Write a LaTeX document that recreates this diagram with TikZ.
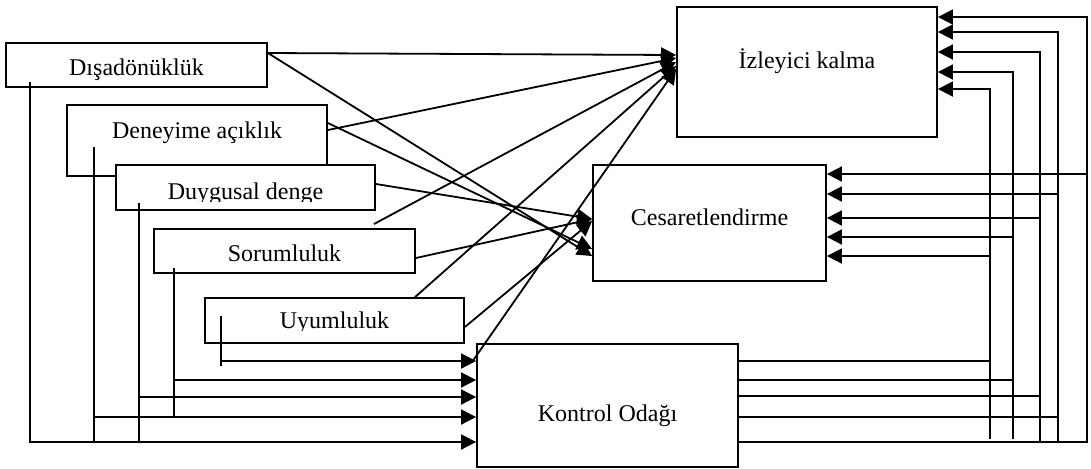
\documentclass[tikz,border=0pt]{standalone}
\usepackage{fontspec}
\setmainfont{Liberation Serif}
\usetikzlibrary{arrows.meta,fit}
\begin{document}
\begin{tikzpicture}[x=0.5pt,y=-0.5pt,
  box/.style={draw,line width=0.9pt,fill=white,inner sep=0pt},
  lbl/.style={anchor=base,inner sep=0pt,font=\fontsize{12}{14}\selectfont},
  wire/.style={line width=0.9pt},
  arr/.style={wire,-{Triangle[length=7.5pt,width=7.5pt]}},
]
\useasboundingbox (0,0) rectangle (1091,468);

% personality trait boxes (stacked, later ones cover earlier ones)
\node[box,fit={(6,43) (267,87)}] (dis) {};
\node[lbl] (disT) at (136.5,75) {Dışadönüklük};
\node[box,fit={(67,105) (327,176)}] (den) {};
\node[lbl] (denT) at (197,138) {Deneyime açıklık};
\node[box,fit={(116,165) (375,210)}] (duy) {};
\begin{scope}
  \clip (116,165) rectangle (375,201.5);
  \node[lbl] (duyT) at (245.5,199) {Duygusal denge};
\end{scope}
\node[box,fit={(154,229) (415,273)}] (sor) {};
\node[lbl] (sorT) at (284.5,261) {Sorumluluk};
\node[box,fit={(205,298) (464,343)}] (uy) {};
\begin{scope}
  \clip (205,298) rectangle (464,330);
  \node[lbl] (uyT) at (334.5,328) {Uyumluluk};
\end{scope}

% outcome boxes
\node[box,fit={(677,7) (937,137)}] (iz) {};
\node[lbl] (izT) at (807,68) {İzleyici kalma};
\node[box,fit={(593,165) (826,281)}] (ces) {};
\node[lbl] (cesT) at (709.5,225) {Cesaretlendirme};
\node[box,fit={(477,344) (738,467)}] (ko) {};
\node[lbl] (koT) at (607.5,421) {Kontrol Odağı};

% start points of the feeder lines inside the trait boxes
\coordinate (disS) at (30,82);
\coordinate (denS) at (94,147);
\coordinate (duyS) at (139,203);
\coordinate (sorS) at (174,268);
\coordinate (uyS)  at (221,316);
\coordinate (sorTop) at (374,224);
\coordinate (koTail) at (472,362);

% traits -> Kontrol Odağı
\draw[arr] (uyS)  |- (ko.west |- 0,361);
\draw[wire] (uyS) -- (221,366);
\draw[arr] (sorS) |- (ko.west |- 0,380);
\draw[wire] (sorS) -- (174,417);
\draw[arr] (duyS) |- (ko.west |- 0,397);
\draw[wire] (duyS) -- (139,442);
\draw[arr] (denS) |- (ko.west |- 0,417);
\draw[wire] (denS) -- (94,442);
\draw[arr] (disS) |- (ko.west |- 0,442);

% traits -> İzleyici kalma / Cesaretlendirme
\draw[arr] (dis.east |- 0,53) -- (iz.west |- 0,55);
\draw[arr] (dis.east |- 0,53) -- (ces.west |- 0,256);
\draw[arr] (den.east |- 0,130) -- (iz.west |- 0,58);
\draw[arr] (den.east |- 0,123) -- (ces.west |- 0,249);
\draw[arr] (duy.east |- 0,184) -- (ces.west |- 0,219);
\draw[arr] (sor.east |- 0,258) -- (ces.west |- 0,219);
\draw[arr] (sorTop) -- (iz.west |- 0,62);
\draw[arr] (uy.north -| 415,0) -- (iz.west |- 0,66);
\draw[arr] (uy.east |- 0,327) -- (ces.west |- 0,221);
\draw[arr] (koTail) -- (iz.west |- 0,69);

% Kontrol Odağı -> İzleyici kalma and Cesaretlendirme (right-hand bus)
\foreach \vx/\yk/\yi/\yc/\yt in {990/361/89/256/439, 1013/380/72/237/439,
    1040/396/52/218/442, 1058/417/32/194/442, 1087/442/17/174/442} {
  \draw[arr] (ko.east |- 0,\yk) -| (\vx,\yi) -- (iz.east |- 0,\yi);
  \draw[arr] (\vx,\yc) -- (ces.east |- 0,\yc);
  \draw[wire] (\vx,\yk) -- (\vx,\yt);
}
\end{tikzpicture}
\end{document}
